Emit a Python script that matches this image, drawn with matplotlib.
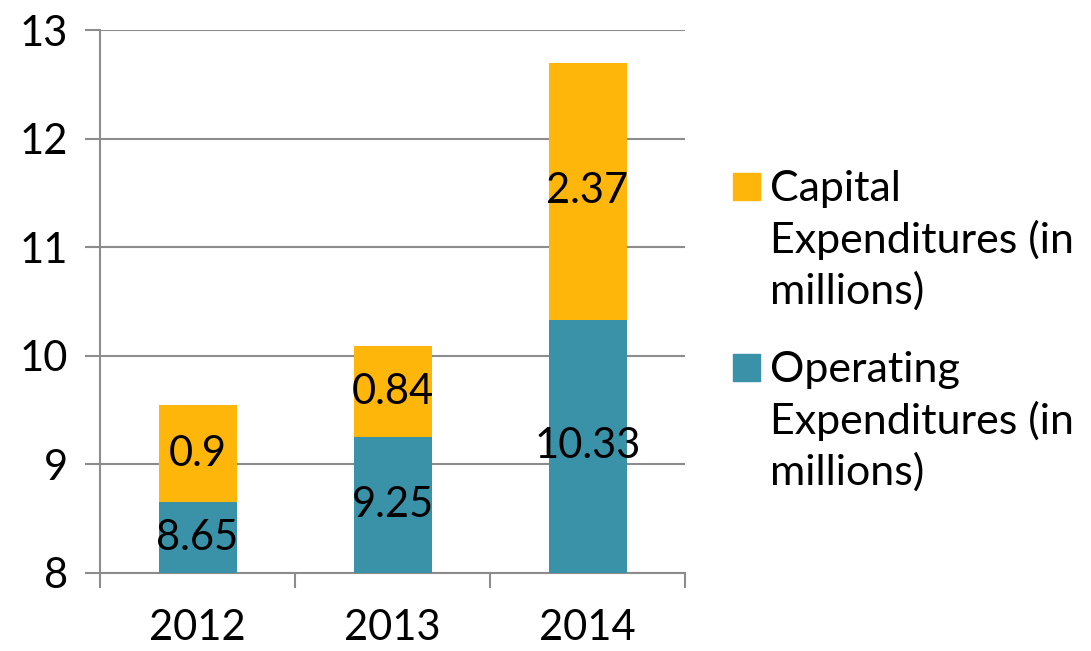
import matplotlib
matplotlib.use("Agg")
import matplotlib.pyplot as plt
from matplotlib.patches import Rectangle
import numpy as np

# -----------------------------
# Data
# -----------------------------
years = ["2012", "2013", "2014"]
operating = [8.65, 9.25, 10.33]
capital = [0.9, 0.84, 2.37]
y_ticks = [8, 9, 10, 11, 12, 13]

labels = ["Capital\nExpenditures (in\nmillions)",
          "Operating\nExpenditures (in\nmillions)"]

TEAL = "#3A92A8"
GOLD = "#FFB60A"
GRID = "#8C8C8C"

plt.rcParams["font.family"] = ["Lato", "DejaVu Sans"]

# -----------------------------
# Figure
# -----------------------------
fig = plt.figure(figsize=(10.91, 6.51), dpi=100)
ax = fig.add_axes([100 / 1091, 1 - 573 / 651, 585 / 1091, 543 / 651])

x = np.arange(len(years))
width = 0.4
ax.bar(x, operating, width, color=TEAL, zorder=3)
ax.bar(x, capital, width, bottom=operating, color=GOLD, zorder=3)

ymin, ymax = 8, 13
ax.set_ylim(ymin, ymax)
ax.set_xlim(-0.5, len(years) - 0.5)

# value labels, centred on the visible part of each segment
for i in range(len(years)):
    op_mid = (max(ymin, 0) + operating[i]) / 2
    ax.text(x[i], op_mid, f"{operating[i]:g}", ha="center", va="center",
            fontsize=30, color="black", zorder=4)
    cap_mid = operating[i] + capital[i] / 2
    ax.text(x[i], cap_mid, f"{capital[i]:g}", ha="center", va="center",
            fontsize=30, color="black", zorder=4)

# axes styling
ax.set_yticks(y_ticks)
ax.set_yticklabels([str(t) for t in y_ticks])
ax.yaxis.grid(True, color=GRID, linewidth=1.5, zorder=0)
ax.tick_params(axis="y", direction="out", length=11, width=1.5, color=GRID,
               labelsize=30, pad=12)

ax.set_xticks(x)
ax.set_xticklabels(years)
ax.set_xticks(np.arange(-0.5, len(years), 1.0), minor=True)
ax.tick_params(axis="x", which="major", length=0, labelsize=30, pad=26)
ax.tick_params(axis="x", which="minor", direction="out", length=11,
               width=1.5, color=GRID)

for side in ["top", "right"]:
    ax.spines[side].set_visible(False)
for side in ["left", "bottom"]:
    ax.spines[side].set_color(GRID)
    ax.spines[side].set_linewidth(1.5)

# legend (handles aligned with first line of each label)
legend_colors = [GOLD, TEAL]
legend_tops = [170, 351]
for col, lab, top in zip(legend_colors, labels, legend_tops):
    fig.patches.append(Rectangle((733 / 1091, 1 - (top + 30) / 651),
                                 27 / 1091, 27 / 651, color=col,
                                 transform=fig.transFigure))
    fig.text(770 / 1091, 1 - top / 651, lab, fontsize=31, va="top",
             ha="left", linespacing=1.36)

fig.savefig("out.png", dpi=100)
